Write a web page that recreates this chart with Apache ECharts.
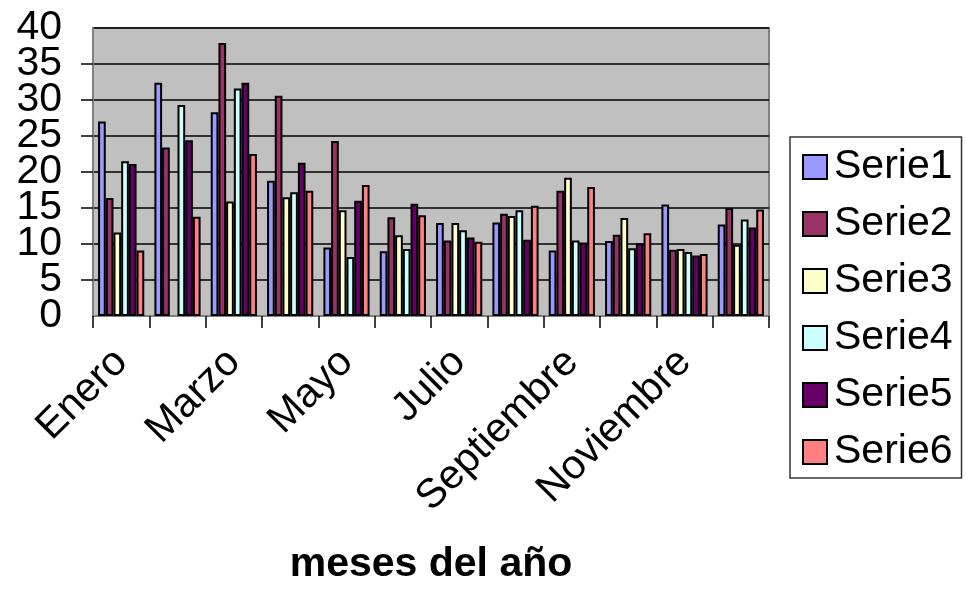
<!DOCTYPE html>
<html>
<head>
<meta charset="utf-8">
<script src="https://cdn.jsdelivr.net/npm/echarts@6/dist/echarts.min.js"></script>
<style>
  html, body { margin: 0; padding: 0; background: #ffffff; }
  #chart { width: 966px; height: 602px; }
</style>
</head>
<body>
<div id="chart"></div>
<script>
// Months of the year (only every other label is printed on the axis)
const months = ['Enero', 'Febrero', 'Marzo', 'Abril', 'Mayo', 'Junio', 'Julio',
                'Agosto', 'Septiembre', 'Octubre', 'Noviembre', 'Diciembre'];

// Monthly values per series
const serie1 = [27.0, 32.4, 28.3, 18.8, 9.5, 9.0, 12.9, 13.0, 9.1, 10.4, 15.5, 12.7];
const serie2 = [16.4, 23.4, 37.9, 30.6, 24.3, 13.7, 10.5, 14.2, 17.4, 11.3, 9.2, 15.0];
const serie3 = [11.6, null, 15.9, 16.5, 14.7, 11.2, 12.9, 13.9, 19.2, 13.6, 9.3, 9.9];
const serie4 = [21.5, 29.3, 31.6, 17.2, 8.2, 9.3, 11.9, 14.7, 10.5, 9.4, 8.9, 13.4];
const serie5 = [21.1, 24.4, 32.4, 21.3, 16.0, 15.6, 10.9, 10.6, 10.2, 10.1, 8.4, 12.3];
const serie6 = [9.1, 13.8, 22.5, 17.4, 18.2, 14.0, 10.3, 15.3, 17.9, 11.5, 8.6, 14.8];

const seriesNames = ['Serie1', 'Serie2', 'Serie3', 'Serie4', 'Serie5', 'Serie6'];
const seriesData = [serie1, serie2, serie3, serie4, serie5, serie6];
const seriesColors = ['#9999ff', '#993366', '#ffffcc', '#ccffff', '#660066', '#ff8080'];

// Value axis ticks
const yMin = 0, yMax = 40, yStep = 5;

const FONT = "'Liberation Sans', Arial, sans-serif";
const yLabelBase = { margin: 31, fontFamily: FONT, fontSize: 41, color: '#000' };

const chart = echarts.init(document.getElementById('chart'), null, { renderer: 'canvas' });

chart.setOption({
  animation: false,
  backgroundColor: '#ffffff',
  textStyle: { fontFamily: FONT, color: '#000' },
  grid: {
    left: 93, right: 197, top: 28, bottom: 286,
    outerBoundsMode: 'none',
    containLabel: false,
    show: true,
    backgroundColor: '#c0c0c0',
    borderColor: '#808080',
    borderWidth: 2
  },
  legend: {
    orient: 'vertical',
    left: 790,
    top: 137,
    padding: [8, 9, 4, 12],
    itemWidth: 24,
    itemHeight: 24,
    itemGap: 13,
    icon: 'rect',
    backgroundColor: '#ffffff',
    borderColor: '#333333',
    borderWidth: 1.5,
    borderRadius: 0,
    textStyle: { fontFamily: FONT, fontSize: 41, color: '#000', lineHeight: 44, padding: [0, 0, 0, 2] },
    data: seriesNames
  },
  xAxis: {
    type: 'category',
    data: months,
    boundaryGap: true,
    axisLine: { show: true, lineStyle: { color: '#808080', width: 2 } },
    axisTick: { show: true, length: 12, alignWithLabel: false, interval: 0, lineStyle: { color: '#000', width: 1.5 } },
    axisLabel: {
      interval: 1,
      rotate: 45,
      margin: 40,
      fontFamily: FONT,
      fontSize: 41,
      color: '#000'
    },
    splitLine: { show: false },
    name: 'meses del año',
    nameLocation: 'middle',
    nameGap: 228,
    nameTextStyle: { fontFamily: FONT, fontSize: 41, fontWeight: 'bold', color: '#000' }
  },
  yAxis: [
    {
      // main value axis: inner tick labels, ticks and gridlines
      type: 'value',
      position: 'left',
      min: yMin,
      max: yMax,
      interval: yStep,
      axisLine: { show: true, lineStyle: { color: '#808080', width: 2 } },
      axisTick: { show: true, length: 12, inside: false, lineStyle: { color: '#000', width: 1.5 } },
      axisLabel: Object.assign({}, yLabelBase, { showMinLabel: false, showMaxLabel: false }),
      splitLine: { show: true, lineStyle: { color: '#000', width: 1.5 } }
    },
    {
      // companion axis carrying the end labels (0 and 40)
      type: 'value',
      position: 'left',
      min: yMin,
      max: yMax,
      interval: yStep,
      axisLine: { show: false },
      axisTick: { show: false },
      splitLine: { show: false },
      axisLabel: Object.assign({}, yLabelBase, {
        showMinLabel: true, showMaxLabel: true,
        formatter: (v) => (v === yMin || v === yMax) ? String(v) : ''
      })
    }
  ],
  series: seriesNames.map((name, i) => ({
    name: name,
    type: 'bar',
    yAxisIndex: 0,
    data: seriesData[i],
    barGap: '0%',
    barCategoryGap: '18%',
    itemStyle: { color: seriesColors[i], borderColor: '#000', borderWidth: 2 }
  }))
});
</script>
</body>
</html>
